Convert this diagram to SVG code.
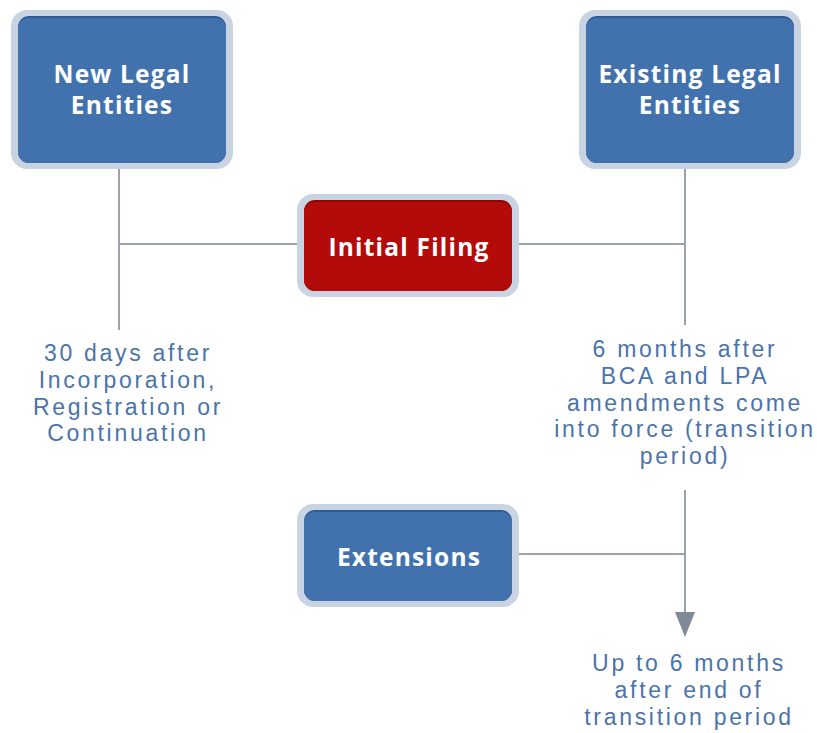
<svg xmlns="http://www.w3.org/2000/svg" width="817" height="733" viewBox="0 0 817 733">
<style>
.outer{fill:#c9d4e2}
.blue{fill:#4272ae}
.red{fill:#b30a0a}
.ntext{font-family:"Open Sans","Liberation Sans",sans-serif;font-weight:700;font-size:24.5px;letter-spacing:1.2px;fill:#ffffff;text-anchor:middle}
.ltext{font-family:"Liberation Sans",Arial,sans-serif;font-size:23px;letter-spacing:2.7px;fill:#4a74aa;text-anchor:middle}
.conn{stroke:#9aa3ad;stroke-width:2;fill:none}
</style>
<rect width="817" height="733" fill="#ffffff"/>
<g id="connectors">
<line class="conn" x1="119" y1="168" x2="119" y2="330"/>
<line class="conn" x1="119" y1="244" x2="297" y2="244"/>
<line class="conn" x1="518" y1="244" x2="685" y2="244"/>
<line class="conn" x1="685" y1="168" x2="685" y2="325"/>
<line class="conn" x1="518" y1="554" x2="685" y2="554"/>
<line class="conn" x1="685" y1="490" x2="685" y2="614"/>
<path d="M675,612 L695,612 L685,637 Z" fill="#7f8a96"/>
</g>
<g id="new-legal-entities">
<rect class="outer" x="11" y="10" width="222" height="159" rx="16"/>
<rect x="18" y="16" width="208" height="147" rx="11" fill="#2f5a96"/>
<rect class="blue" x="18" y="18" width="208" height="145" rx="11"/>
<text class="ntext" x="122" y="83">New Legal</text>
<text class="ntext" x="122" y="114">Entities</text>
</g>
<g id="existing-legal-entities">
<rect class="outer" x="579" y="10" width="222" height="159" rx="16"/>
<rect x="586" y="16" width="208" height="147" rx="11" fill="#2f5a96"/>
<rect class="blue" x="586" y="18" width="208" height="145" rx="11"/>
<text class="ntext" x="690" y="83">Existing Legal</text>
<text class="ntext" x="690" y="114">Entities</text>
</g>
<g id="initial-filing">
<rect class="outer" x="297" y="194" width="222" height="103" rx="16"/>
<rect x="304" y="200" width="208" height="91" rx="11" fill="#8f0505"/>
<rect class="red" x="304" y="202" width="208" height="89" rx="11"/>
<text class="ntext" x="409" y="256">Initial Filing</text>
</g>
<g id="extensions">
<rect class="outer" x="297" y="504" width="222" height="103" rx="16"/>
<rect x="304" y="510" width="208" height="91" rx="11" fill="#2f5a96"/>
<rect class="blue" x="304" y="512" width="208" height="89" rx="11"/>
<text class="ntext" x="409" y="566">Extensions</text>
</g>
<g id="label-new">
<text class="ltext" x="128" y="361">30 days after</text>
<text class="ltext" x="128" y="388">Incorporation,</text>
<text class="ltext" x="128" y="415">Registration or</text>
<text class="ltext" x="128" y="441">Continuation</text>
</g>
<g id="label-existing">
<text class="ltext" x="685" y="357">6 months after</text>
<text class="ltext" x="685" y="384">BCA and LPA</text>
<text class="ltext" x="685" y="411">amendments come</text>
<text class="ltext" x="685" y="437">into force (transition</text>
<text class="ltext" x="685" y="464">period)</text>
</g>
<g id="label-extensions">
<text class="ltext" x="689" y="671">Up to 6 months</text>
<text class="ltext" x="689" y="698">after end of</text>
<text class="ltext" x="689" y="725">transition period</text>
</g>
</svg>
